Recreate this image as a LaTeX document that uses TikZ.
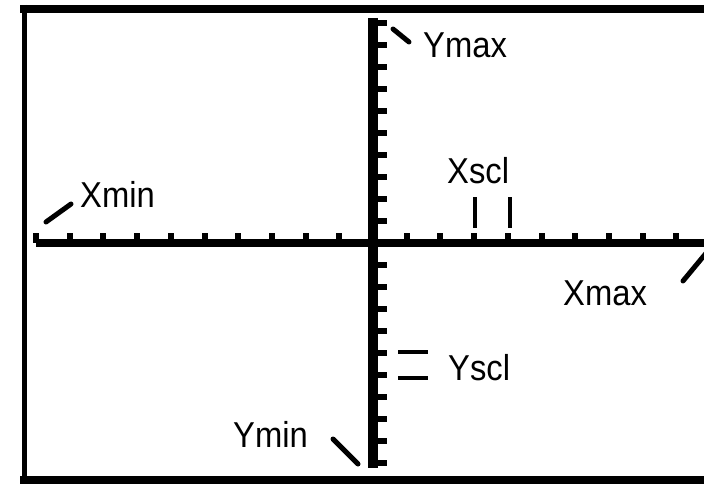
\documentclass[tikz,border=0pt]{standalone}
\usepackage{fontspec}
\newfontfamily\lblfont{Liberation Sans}[FakeStretch=0.91]

\begin{document}
\begin{tikzpicture}[
        x=1pt, y=-1pt,
        axis/.style={line width=8pt},
        scl/.style={line width=4pt},
        pointer/.style={line width=5pt, line cap=round},
        lbl/.style={font=\lblfont\fontsize{36}{36}\selectfont, inner sep=0pt, anchor=base west}
    ]
        \useasboundingbox (0,0) rectangle (704,484);
        \clip (0,0) rectangle (704,484);

        \draw[line width=5pt] (24.5,5) -- (24.5,488);
        \draw[line width=8.5pt] (20,9) -- (710,9);
        \draw[line width=8.5pt] (20,480.5) -- (710,480.5);

        \draw[axis] (36,243) -- (710,243);
        \draw[line width=10pt] (373,18) -- (373,468);
        \foreach \k in {1,...,10} {
            \fill (373-33.7*\k-3,233) rectangle ++(6,10);
            \fill (373+33.7*\k-3,233) rectangle ++(6,10);
            \fill (373,243-22*\k-2.75) rectangle ++(14,5.5);
            \fill (373,243+22*\k-2.75) rectangle ++(14,5.5);
        }

        \draw[scl] (475,197) -- (475,228);
        \draw[scl] (510,197) -- (510,228);
        \draw[scl] (398,352) -- (428,352);
        \draw[scl] (398,378) -- (428,378);

        \node[lbl] (ymaxlbl) at (423,58) {Ymax};
        \node[lbl] (xminlbl) at (80,207) {Xmin};
        \node[lbl] (xscllbl) at (447,183) {Xscl};
        \node[lbl] (xmaxlbl) at (563,305) {Xmax};
        \node[lbl] (yscllbl) at (448,380) {Yscl};
        \node[lbl] (yminlbl) at (233,447) {Ymin};

        \draw[pointer] (393,29) -- (409,42);
        \draw[pointer] (46,222) -- (71,204);
        \draw[pointer] (683,281) -- (712,246);
        \draw[pointer] (333,439) -- (358,464);
    \end{tikzpicture}
\end{document}
